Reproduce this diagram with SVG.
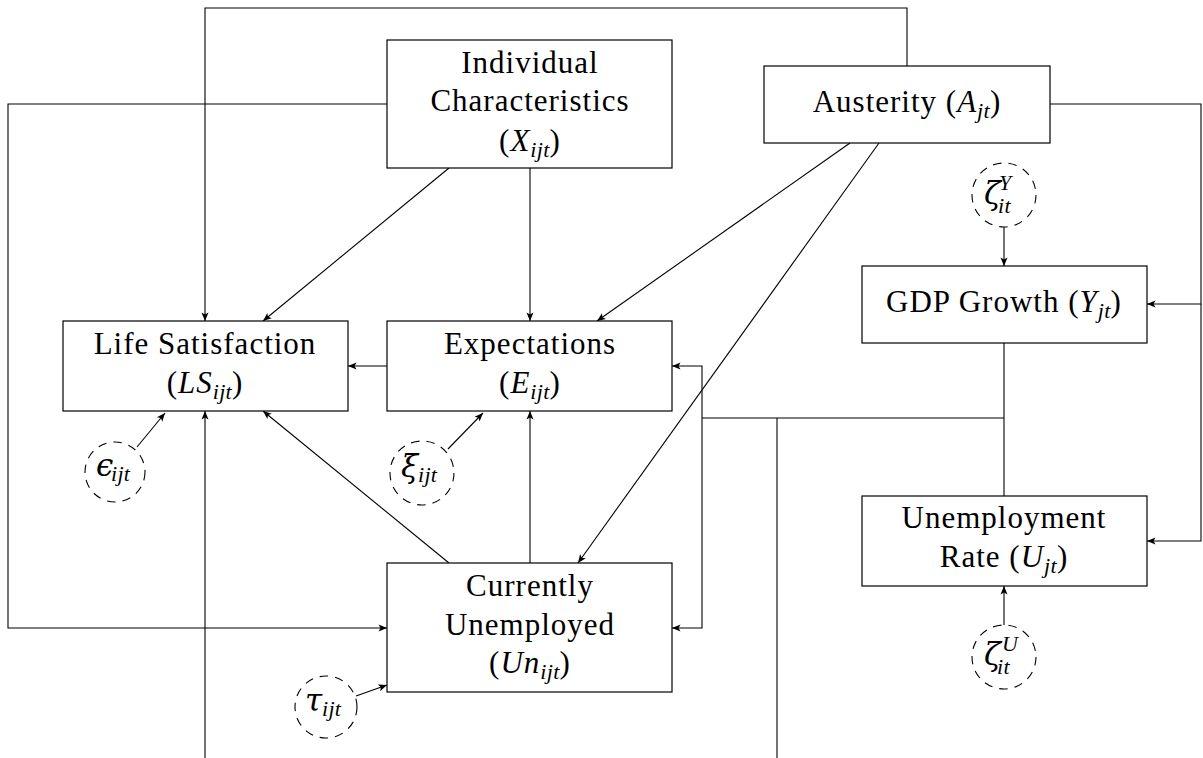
<svg xmlns="http://www.w3.org/2000/svg" width="1203" height="758" viewBox="0 0 1203 758">
<style>
.box{fill:#fff;stroke:#000;stroke-width:1.2}
.err{fill:#fff;stroke:#000;stroke-width:1.1;stroke-dasharray:8.5 7}
.ln{fill:none;stroke:#000;stroke-width:1.1}
.ar{marker-end:url(#ah)}
.tx{font-size:31px;letter-spacing:1px;fill:#000}
.t{text-anchor:middle}
.m{font-style:italic}
.s{font-style:italic;font-size:22px;letter-spacing:0.3px}
.g{font-style:italic;font-size:31px;fill:#000}
</style>
<defs>
<marker id="ah" viewBox="-1 -4 10 8" refX="8" refY="0" markerWidth="10" markerHeight="8" markerUnits="userSpaceOnUse" orient="auto">
<path d="M-0.5,-3.5 L8,0 L-0.5,3.5 L1.5,0 z" fill="#000"/>
</marker>
</defs>
<g id="connectors">
<path class="ln ar" d="M907,66 V8 H205 V321"/>
<path class="ln ar" d="M387,104 H8 V628 H387"/>
<path class="ln ar" d="M449,168 L263,321"/>
<path class="ln ar" d="M530,168 V321"/>
<path class="ln ar" d="M850,143 L597,321"/>
<path class="ln ar" d="M879,143 L578,563"/>
<path class="ln ar" d="M1050,104 H1201 V304 H1147"/>
<path class="ln ar" d="M1201,304 V541 H1147"/>
<path class="ln ar" d="M1004,227 V266"/>
<path class="ln ar" d="M1004,625 V586"/>
<path class="ln ar" d="M387,366 H348"/>
<path class="ln ar" d="M137,447 L165,413"/>
<path class="ln ar" d="M448,449 L483,413"/>
<path class="ln ar" d="M356,696 L387,685"/>
<path class="ln ar" d="M449,563 L263,411"/>
<path class="ln ar" d="M530,563 V411"/>
<path class="ln ar" d="M205,758 V411"/>
<path class="ln" d="M1004,343 V496"/>
<path class="ln" d="M1004,418 H702"/>
<path class="ln ar" d="M702,418 V366 H672"/>
<path class="ln ar" d="M702,418 V628 H672"/>
<path class="ln" d="M777,418 V758"/>
</g>
<g id="individual">
<rect class="box" x="387" y="40" width="285" height="128"/>
<text class="tx t" font-family="Liberation Serif" x="530" y="73">Individual</text>
<text class="tx t" font-family="Liberation Serif" x="530" y="111">Characteristics</text>
<text class="tx t" font-family="Liberation Serif" x="530" y="151">(<tspan class="m">X</tspan><tspan class="s" dy="6">ijt</tspan><tspan dy="-6">)</tspan></text>
</g>
<g id="austerity">
<rect class="box" x="764" y="66" width="286" height="77"/>
<text class="tx t" font-family="Liberation Serif" x="907" y="112">Austerity (<tspan class="m">A</tspan><tspan class="s" dy="6">jt</tspan><tspan dy="-6">)</tspan></text>
</g>
<g id="gdp">
<rect class="box" x="862" y="266" width="285" height="77"/>
<text class="tx t" font-family="Liberation Serif" x="1004" y="312">GDP Growth (<tspan class="m">Y</tspan><tspan class="s" dy="6">jt</tspan><tspan dy="-6">)</tspan></text>
</g>
<g id="unemprate">
<rect class="box" x="862" y="496" width="285" height="90"/>
<text class="tx t" font-family="Liberation Serif" x="1004" y="528">Unemployment</text>
<text class="tx t" font-family="Liberation Serif" x="1004" y="567">Rate (<tspan class="m">U</tspan><tspan class="s" dy="6">jt</tspan><tspan dy="-6">)</tspan></text>
</g>
<g id="lifesat">
<rect class="box" x="63" y="321" width="285" height="90"/>
<text class="tx t" font-family="Liberation Serif" x="205" y="354">Life Satisfaction</text>
<text class="tx t" font-family="Liberation Serif" x="205" y="393">(<tspan class="m">LS</tspan><tspan class="s" dy="6">ijt</tspan><tspan dy="-6">)</tspan></text>
</g>
<g id="expectations">
<rect class="box" x="387" y="321" width="285" height="90"/>
<text class="tx t" font-family="Liberation Serif" x="530" y="354">Expectations</text>
<text class="tx t" font-family="Liberation Serif" x="530" y="393">(<tspan class="m">E</tspan><tspan class="s" dy="6">ijt</tspan><tspan dy="-6">)</tspan></text>
</g>
<g id="unemployed">
<rect class="box" x="387" y="563" width="285" height="129"/>
<text class="tx t" font-family="Liberation Serif" x="530" y="596">Currently</text>
<text class="tx t" font-family="Liberation Serif" x="530" y="635">Unemployed</text>
<text class="tx t" font-family="Liberation Serif" x="530" y="673">(<tspan class="m">Un</tspan><tspan class="s" dy="6">ijt</tspan><tspan dy="-6">)</tspan></text>
</g>
<g id="epsilon">
<circle class="err" cx="115" cy="472" r="30"/>
<text class="g" font-family="DejaVu Serif" x="96" y="476">&#x3F5;</text>
<text class="tx s" font-family="Liberation Serif" x="111" y="481">ijt</text>
</g>
<g id="xi">
<circle class="err" cx="422" cy="473" r="32"/>
<text class="g" font-family="DejaVu Serif" x="401" y="477">&#x3BE;</text>
<text class="tx s" font-family="Liberation Serif" x="418" y="482">ijt</text>
</g>
<g id="tau">
<circle class="err" cx="326" cy="707" r="31"/>
<text class="g" font-family="DejaVu Serif" x="305" y="711">&#x3C4;</text>
<text class="tx s" font-family="Liberation Serif" x="322" y="716">ijt</text>
</g>
<g id="zetaY">
<circle class="err" cx="1004" cy="195" r="32"/>
<text class="g" font-family="DejaVu Serif" x="984" y="204">&#x3B6;</text>
<text class="tx s" font-family="Liberation Serif" x="999" y="190">Y</text>
<text class="tx s" font-family="Liberation Serif" x="998" y="213">it</text>
</g>
<g id="zetaU">
<circle class="err" cx="1004" cy="657" r="32"/>
<text class="g" font-family="DejaVu Serif" x="984" y="665">&#x3B6;</text>
<text class="tx s" font-family="Liberation Serif" x="1002" y="651">U</text>
<text class="tx s" font-family="Liberation Serif" x="997" y="674">it</text>
</g>
</svg>
